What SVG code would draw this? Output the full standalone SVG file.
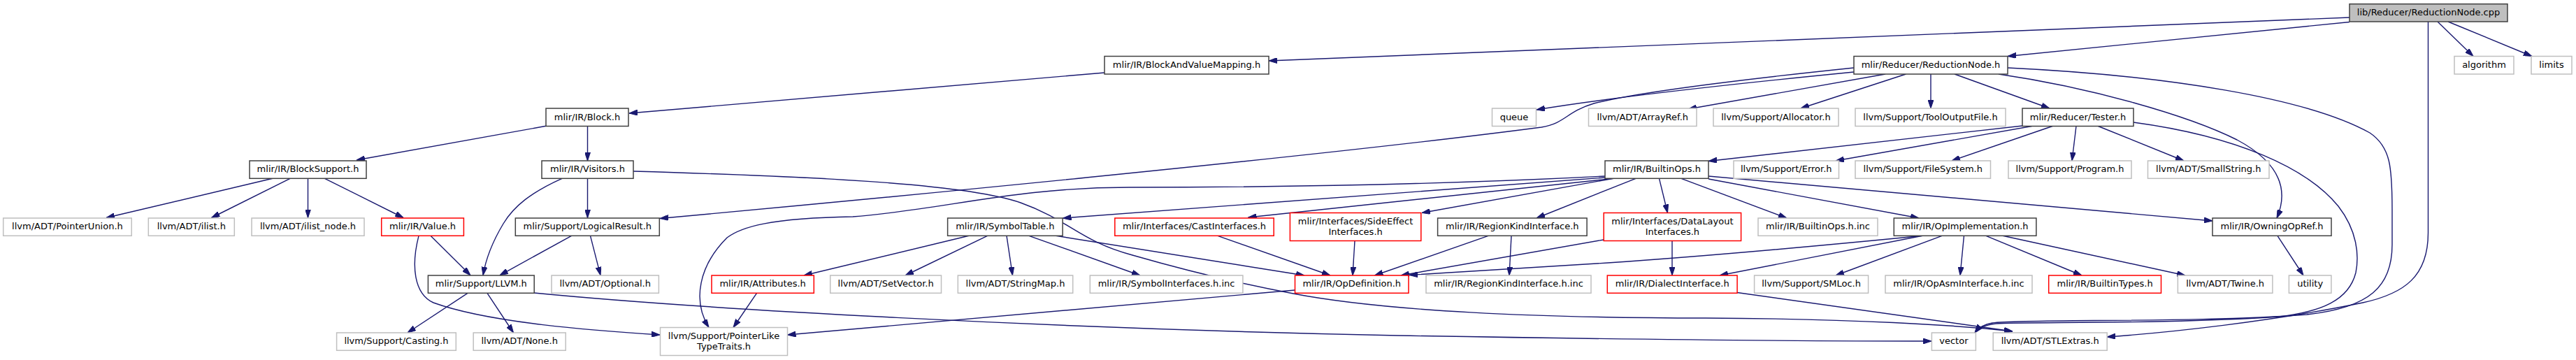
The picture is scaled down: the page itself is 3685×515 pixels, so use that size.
<svg xmlns="http://www.w3.org/2000/svg" width="3685" height="515" viewBox="0 0 3685 515">
<defs>
<marker id="ah" markerWidth="12" markerHeight="8" refX="12" refY="4" orient="auto" markerUnits="userSpaceOnUse">
<path d="M0,0 L12,4 L0,8 z" fill="#191970" stroke="#191970" stroke-width="1"/>
</marker>
<style>
text{font-family:"DejaVu Sans","Liberation Sans",sans-serif;font-size:13px;fill:#000;text-anchor:middle}
.b rect{fill:#fff;stroke:#404040;stroke-width:1.5}
.g rect{fill:#fff;stroke:#bfbfbf;stroke-width:1.5}
.r rect{fill:#fff;stroke:#ff0000;stroke-width:1.5}
.root rect{fill:#bfbfbf;stroke:#404040;stroke-width:1.5}
#edges path{fill:none;stroke:#191970;stroke-width:1.4;marker-end:url(#ah)}
</style>
</defs>
<rect width="3685" height="515" fill="#fff"/>
<g id="edges">
<path d="M3361,25 C2800,47 2300,67 1815,87"/>
<path d="M3361,31.5 L2872,80.5"/>
<path d="M3487,31 L3538,80.5"/>
<path d="M3502,31 L3622,80.5"/>
<path d="M3473.5,31 L3473.5,333 C3473.5,395 3440,420 3380,433 C3250,460 3100,476 3014,482"/>
<path d="M1580,104 L900,162"/>
<path d="M781,180.3 L510,229"/>
<path d="M840.5,180.5 L840.5,230"/>
<path d="M390,255.3 L152,311.5"/>
<path d="M415,255.3 L302.5,311.5"/>
<path d="M440.5,255.3 L440.5,311.5"/>
<path d="M464.5,255.3 L577,311.5"/>
<path d="M616,337.3 L673,393.8"/>
<path d="M599,337.3 C588,380 592,420 620,433 C700,462 850,473 944,479"/>
<path d="M804,255.3 C760,275 735,295 720,320 C705,345 695,370 691,393.8"/>
<path d="M840.5,255.3 L840.5,311.8"/>
<path d="M906,245 C1150,252 1380,262 1460,290 C1530,315 1545,345 1620,365 C1700,388 1770,405 1850,420 C1980,445 2200,455 2440,455 C2650,456 2800,465 2879,474"/>
<path d="M817.5,337.3 L715,393.8"/>
<path d="M844.5,337.3 L859,393.8"/>
<path d="M669,419.3 L583,476"/>
<path d="M697,419.3 L734.5,476"/>
<path d="M764,419 C1000,442 1500,470 2000,480 C2400,487 2600,488 2763,488"/>
<path d="M2652,97 C2450,118 2330,135 2280,148 C2240,160 2240,176 2205,182 C1900,222 1300,280 944,312.5"/>
<path d="M2652,103 C2500,118 2300,140 2198,157"/>
<path d="M2697,106 L2415,156"/>
<path d="M2726.5,106 L2576,155"/>
<path d="M2762,106 L2762,155"/>
<path d="M2796,106 L2932,155"/>
<path d="M2859,106 C2990,125 3130,165 3200,200 C3260,232 3275,270 3257,312"/>
<path d="M2872,97 C3100,108 3300,140 3390,190 C3420,210 3422,240 3422,300 L3422,350 C3422,410 3390,440 3300,450 C3150,462 2900,456 2850,462 C2838,464 2830,469 2825,476"/>
<path d="M2893,180 L2444,230.5"/>
<path d="M2906.5,180.5 L2626,230"/>
<path d="M2936,180.5 L2792,230"/>
<path d="M2970,180.5 L2964,230"/>
<path d="M3001.5,180.5 L3124,230"/>
<path d="M3052,175 C3200,195 3300,240 3345,295 C3372,330 3375,365 3370,390 C3360,430 3320,446 3260,453 C3100,464 2900,460 2855,463 C2840,465 2830,470 2825,476"/>
<path d="M2296,252 C2100,262 1850,268 1615,268 C1450,268 1350,300 1220,310 C1100,312 1060,325 1040,340 C1000,380 990,430 1014,468.5"/>
<path d="M2296,254 L1520.5,312"/>
<path d="M2308,255.3 L1785.5,311"/>
<path d="M2308,255.3 L2034,304.5"/>
<path d="M2340,255.3 L2198,312"/>
<path d="M2373.5,255.3 L2385.5,304.5"/>
<path d="M2405,255.3 L2556,312"/>
<path d="M2444,256 L2745,312"/>
<path d="M2444,252 L3165,316"/>
<path d="M1386,337.3 L1150,394"/>
<path d="M1412.5,337.3 L1295,394"/>
<path d="M1440,337.3 L1448.5,394"/>
<path d="M1472,337.3 L1631,394"/>
<path d="M1510.5,337.3 L1866,394"/>
<path d="M1742,337.3 L1903,394"/>
<path d="M1938,344.5 L1935,394"/>
<path d="M2129,337.3 L1966.5,394"/>
<path d="M2162,337.3 L2159,394"/>
<path d="M2294,343 L2004,394"/>
<path d="M2392,344.5 L2392,394"/>
<path d="M2750,337.3 C2600,352 2450,366 2300,376 C2180,384 2080,389 2016,393.5"/>
<path d="M2750,337.3 L2460,394"/>
<path d="M2778,337.3 L2626,394"/>
<path d="M2809.5,337.3 L2804,394"/>
<path d="M2841,337.3 L2978,394"/>
<path d="M2865,337.3 L3126,394"/>
<path d="M3258,337.3 L3295,394"/>
<path d="M1852.5,415 L1126.5,479"/>
<path d="M1082.5,419.3 L1049,468.5"/>
<path d="M2485,418.5 L2879,474"/>
</g>
<g id="n_root" class="root"><rect x="3361" y="5.7" width="226" height="25.3"/><text x="3474" y="22">lib/Reducer/ReductionNode.cpp</text></g>
<g id="n_bavm" class="b"><rect x="1580" y="80.5" width="235" height="25.5"/><text x="1697.5" y="97">mlir/IR/BlockAndValueMapping.h</text></g>
<g id="n_rnh" class="b"><rect x="2652" y="80.5" width="220" height="25.5"/><text x="2762" y="97">mlir/Reducer/ReductionNode.h</text></g>
<g id="n_algorithm" class="g"><rect x="3511" y="80.5" width="85" height="25.5"/><text x="3553.5" y="97">algorithm</text></g>
<g id="n_limits" class="g"><rect x="3621" y="80.5" width="58" height="25.5"/><text x="3650" y="97">limits</text></g>
<g id="n_block" class="b"><rect x="781" y="155" width="118" height="25.5"/><text x="840" y="171.5">mlir/IR/Block.h</text></g>
<g id="n_queue" class="g"><rect x="2134.5" y="155" width="63" height="25.5"/><text x="2166" y="171.5">queue</text></g>
<g id="n_arrayref" class="g"><rect x="2272.5" y="155" width="154.5" height="25.5"/><text x="2349.75" y="171.5">llvm/ADT/ArrayRef.h</text></g>
<g id="n_allocator" class="g"><rect x="2451" y="155" width="179" height="25.5"/><text x="2540.5" y="171.5">llvm/Support/Allocator.h</text></g>
<g id="n_tooloutput" class="g"><rect x="2654" y="155" width="215" height="25.5"/><text x="2761.5" y="171.5">llvm/Support/ToolOutputFile.h</text></g>
<g id="n_tester" class="b"><rect x="2893" y="155" width="159" height="25.5"/><text x="2972.5" y="171.5">mlir/Reducer/Tester.h</text></g>
<g id="n_blocksupport" class="b"><rect x="357" y="230" width="167" height="25.3"/><text x="440.5" y="246.3">mlir/IR/BlockSupport.h</text></g>
<g id="n_visitors" class="b"><rect x="775" y="230" width="131" height="25.3"/><text x="840.5" y="246.3">mlir/IR/Visitors.h</text></g>
<g id="n_builtinops" class="b"><rect x="2296" y="230" width="148" height="25.3"/><text x="2370" y="246.3">mlir/IR/BuiltinOps.h</text></g>
<g id="n_error" class="g"><rect x="2480" y="230" width="150.5" height="25.3"/><text x="2555.25" y="246.3">llvm/Support/Error.h</text></g>
<g id="n_filesystem" class="g"><rect x="2654" y="230" width="193.5" height="25.3"/><text x="2750.75" y="246.3">llvm/Support/FileSystem.h</text></g>
<g id="n_program" class="g"><rect x="2873" y="230" width="176" height="25.3"/><text x="2961" y="246.3">llvm/Support/Program.h</text></g>
<g id="n_smallstring" class="g"><rect x="3072.5" y="230" width="173.5" height="25.3"/><text x="3159.25" y="246.3">llvm/ADT/SmallString.h</text></g>
<g id="n_pointerunion" class="g"><rect x="4.7" y="312" width="183.5" height="25.3"/><text x="96.45" y="328.3">llvm/ADT/PointerUnion.h</text></g>
<g id="n_ilist" class="g"><rect x="212.3" y="312" width="123" height="25.3"/><text x="273.8" y="328.3">llvm/ADT/ilist.h</text></g>
<g id="n_ilistnode" class="g"><rect x="360" y="312" width="161" height="25.3"/><text x="440.5" y="328.3">llvm/ADT/ilist_node.h</text></g>
<g id="n_value" class="r"><rect x="545.7" y="312" width="117.7" height="25.3"/><text x="604.55" y="328.3">mlir/IR/Value.h</text></g>
<g id="n_logicalresult" class="b"><rect x="737.3" y="312" width="206" height="25.3"/><text x="840.3" y="328.3">mlir/Support/LogicalResult.h</text></g>
<g id="n_symboltable" class="b"><rect x="1355.6" y="312" width="164.5" height="25.3"/><text x="1437.85" y="328.3">mlir/IR/SymbolTable.h</text></g>
<g id="n_castinterfaces" class="r"><rect x="1594.8" y="312" width="227.4" height="25.3"/><text x="1708.5" y="328.3">mlir/Interfaces/CastInterfaces.h</text></g>
<g id="n_sideeffect" class="r"><rect x="1845.4" y="304.5" width="187.4" height="40"/><text x="1939.1" y="321">mlir/Interfaces/SideEffect</text><text x="1939.1" y="335.5">Interfaces.h</text></g>
<g id="n_regionkind" class="b"><rect x="2056.6" y="312" width="213.5" height="25.3"/><text x="2163.35" y="328.3">mlir/IR/RegionKindInterface.h</text></g>
<g id="n_datalayout" class="r"><rect x="2294.2" y="304.5" width="196.4" height="40"/><text x="2392.4" y="321">mlir/Interfaces/DataLayout</text><text x="2392.4" y="335.5">Interfaces.h</text></g>
<g id="n_builtinopsinc" class="g"><rect x="2515" y="312" width="171" height="25.3"/><text x="2600.5" y="328.3">mlir/IR/BuiltinOps.h.inc</text></g>
<g id="n_opimpl" class="b"><rect x="2709.3" y="312" width="203.6" height="25.3"/><text x="2811.1" y="328.3">mlir/IR/OpImplementation.h</text></g>
<g id="n_owningopref" class="b"><rect x="3165" y="312" width="170" height="25.3"/><text x="3250" y="328.3">mlir/IR/OwningOpRef.h</text></g>
<g id="n_llvm" class="b"><rect x="612.4" y="394" width="151.8" height="25.3"/><text x="688.3" y="410.3">mlir/Support/LLVM.h</text></g>
<g id="n_optional" class="g"><rect x="789" y="394" width="153.4" height="25.3"/><text x="865.7" y="410.3">llvm/ADT/Optional.h</text></g>
<g id="n_attributes" class="r"><rect x="1018" y="394" width="146.3" height="25.3"/><text x="1091.15" y="410.3">mlir/IR/Attributes.h</text></g>
<g id="n_setvector" class="g"><rect x="1187.7" y="394" width="158.8" height="25.3"/><text x="1267.1" y="410.3">llvm/ADT/SetVector.h</text></g>
<g id="n_stringmap" class="g"><rect x="1370.3" y="394" width="164.4" height="25.3"/><text x="1452.5" y="410.3">llvm/ADT/StringMap.h</text></g>
<g id="n_symbolinterfacesinc" class="g"><rect x="1559.3" y="394" width="218.6" height="25.3"/><text x="1668.6" y="410.3">mlir/IR/SymbolInterfaces.h.inc</text></g>
<g id="n_opdefinition" class="r"><rect x="1852.5" y="394" width="162.5" height="25.3"/><text x="1933.75" y="410.3">mlir/IR/OpDefinition.h</text></g>
<g id="n_regionkindinc" class="g"><rect x="2040" y="394" width="236" height="25.3"/><text x="2158" y="410.3">mlir/IR/RegionKindInterface.h.inc</text></g>
<g id="n_dialectinterface" class="r"><rect x="2299.3" y="394" width="185.8" height="25.3"/><text x="2392.2" y="410.3">mlir/IR/DialectInterface.h</text></g>
<g id="n_smloc" class="g"><rect x="2509.6" y="394" width="163" height="25.3"/><text x="2591.1" y="410.3">llvm/Support/SMLoc.h</text></g>
<g id="n_opasminc" class="g"><rect x="2697" y="394" width="210" height="25.3"/><text x="2802" y="410.3">mlir/IR/OpAsmInterface.h.inc</text></g>
<g id="n_builtintypes" class="r"><rect x="2930.7" y="394" width="160.8" height="25.3"/><text x="3011.1" y="410.3">mlir/IR/BuiltinTypes.h</text></g>
<g id="n_twine" class="g"><rect x="3115.4" y="394" width="135.5" height="25.3"/><text x="3183.15" y="410.3">llvm/ADT/Twine.h</text></g>
<g id="n_utility" class="g"><rect x="3274.4" y="394" width="60.5" height="25.3"/><text x="3304.65" y="410.3">utility</text></g>
<g id="n_casting" class="g"><rect x="481.6" y="476" width="170.7" height="25.3"/><text x="566.95" y="492.3">llvm/Support/Casting.h</text></g>
<g id="n_none" class="g"><rect x="677.2" y="476" width="132" height="25.3"/><text x="743.2" y="492.3">llvm/ADT/None.h</text></g>
<g id="n_pointerlike" class="g"><rect x="944.5" y="468.5" width="182" height="40"/><text x="1035.5" y="485">llvm/Support/PointerLike</text><text x="1035.5" y="499.5">TypeTraits.h</text></g>
<g id="n_vector" class="g"><rect x="2763.4" y="476" width="63" height="25.3"/><text x="2794.9" y="492.3">vector</text></g>
<g id="n_stlextras" class="g"><rect x="2851.2" y="476" width="163" height="25.3"/><text x="2932.7" y="492.3">llvm/ADT/STLExtras.h</text></g>
</svg>
